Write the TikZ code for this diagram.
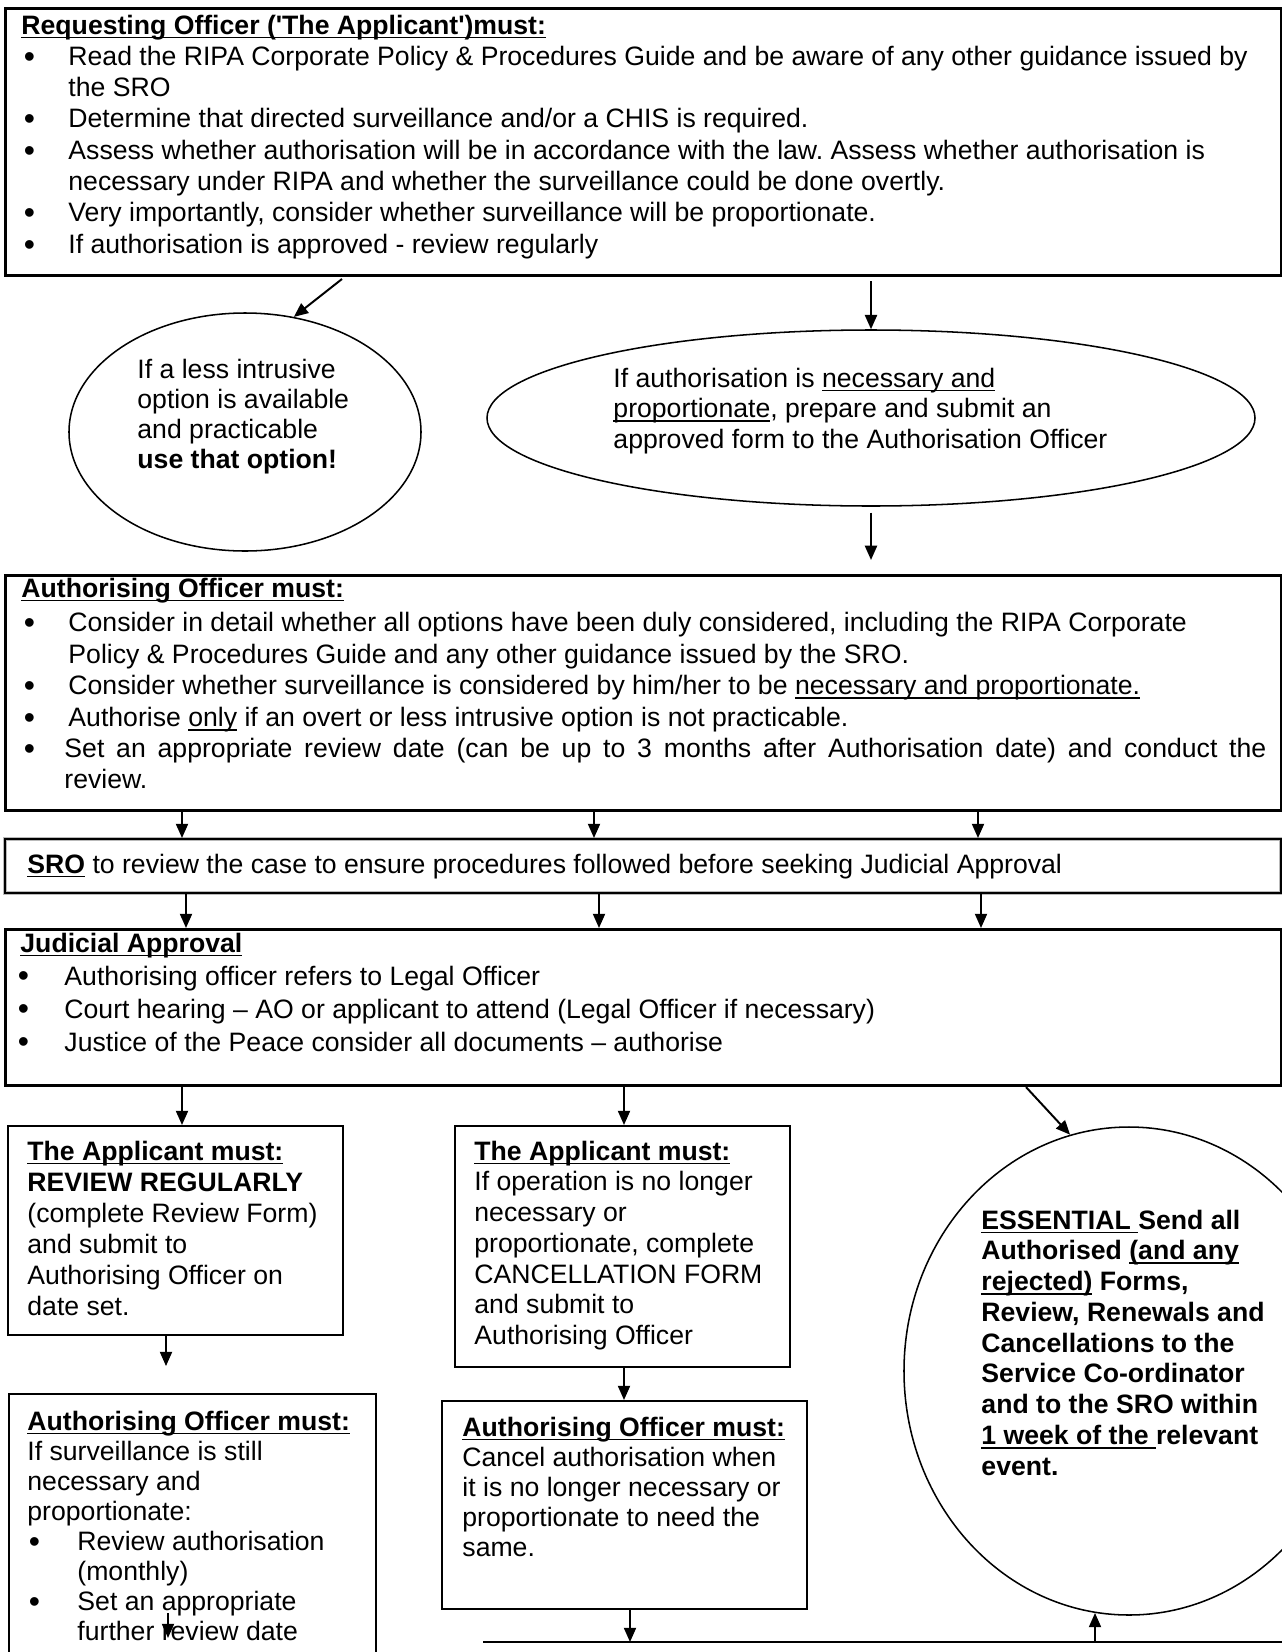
\documentclass[tikz,border=0pt]{standalone}
\usepackage{fontspec}
\setmainfont{Liberation Sans}
\usetikzlibrary{arrows.meta,positioning,calc,shapes.geometric}
\frenchspacing

\newdimen\px \px=0.4563pt
\newsavebox{\undlbox}
\newcommand{\undl}[1]{\sbox{\undlbox}{#1}\rlap{\rule[-2pt]{\wd\undlbox}{0.85pt}}\usebox{\undlbox}}
\newcommand{\full}[1]{\multicolumn{2}{@{}l@{}}{#1}}
\newcommand{\bul}{\raisebox{-0.9pt}{\scalebox{1.2}{\textbullet}}}
\newcommand{\plainlines}[1]{\begin{tabular}[t]{@{}l@{}}#1\end{tabular}}
\newcommand{\bulletlines}[3]{\begin{tabular}[t]{@{\hspace{#1}}p{#2}@{}l@{}}#3\end{tabular}}

\tikzset{
  bigbox/.style={draw, rectangle, line width=1.4pt, inner sep=0pt, anchor=north west},
  smallbox/.style={draw, rectangle, line width=1.1pt, inner sep=0pt, anchor=north west},
  srobox/.style={draw, rectangle, line width=0.8pt, preaction={draw, gray!55, line width=1.9pt}, inner sep=0pt, anchor=north west},
  oval/.style={draw, ellipse, line width=0.7pt, inner sep=0pt},
  txt/.style={anchor=base west, inner sep=0pt},
  arr/.style={-{Triangle[length=6.5pt,width=5.5pt]}, line width=0.9pt}
}

\begin{document}
\begin{tikzpicture}[x=0.4563pt,y=-0.4563pt]
\useasboundingbox (0,0) rectangle (1282,1652);
\clip (0,0) rectangle (1282,1652);

% boxes
\node[bigbox, minimum width=1276\px, minimum height=267\px] (req) at (4,7) {};
\node[bigbox, minimum width=1276\px, minimum height=235\px] (ao) at (4,574) {};
\node[srobox, minimum width=1276\px, minimum height=54\px] (sro) at (4,838) {};
\node[bigbox, minimum width=1276\px, minimum height=156\px] (ja) at (4,928) {};
\node[smallbox, minimum width=335\px, minimum height=209\px] (app1) at (7,1125) {};
\node[smallbox, minimum width=335\px, minimum height=241\px] (app2) at (454,1125) {};
\node[smallbox, minimum width=367\px, minimum height=320\px] (ao1) at (8,1393) {};
\node[smallbox, minimum width=365\px, minimum height=208\px] (ao2) at (441,1400) {};

% ovals
\node[oval, minimum width=352\px, minimum height=238\px] (less) at (245,432) {};
\node[oval, minimum width=768\px, minimum height=176\px] (nec) at (871,418) {};
\node[oval, minimum width=450\px, minimum height=488\px] (ess) at (1129,1371) {};

% texts
\node[txt, font=\fontsize{12.15pt}{14.28pt}\selectfont] (reqtxt) at (21,34) {\bulletlines{2.5\px}{44.5\px}{%
\full{\undl{\textbf{Requesting Officer (\textquotesingle The Applicant\textquotesingle)must:}}}\\
\bul & Read the RIPA Corporate Policy \& Procedures Guide and be aware of any other guidance issued by\\
 & the SRO\\
\bul & Determine that directed surveillance and/or a CHIS is required.\\
\bul & Assess whether authorisation will be in accordance with the law. Assess whether authorisation is\\
 & necessary under RIPA and whether the surveillance could be done overtly.\\
\bul & Very importantly, consider whether surveillance will be proportionate.\\
\bul & If authorisation is approved - review regularly}};

\node[txt, font=\fontsize{12.15pt}{13.83pt}\selectfont] (lesstxt) at (137,378) {\plainlines{%
If a less intrusive\\
option is available\\
and practicable\\
\textbf{use that option!}}};

\node[txt, font=\fontsize{12.15pt}{13.92pt}\selectfont] (nectxt) at (613,387) {\plainlines{%
If authorisation is \undl{necessary and}\\
\undl{proportionate}, prepare and submit an\\
approved form to the Authorisation Officer}};

\node[txt, font=\fontsize{12.15pt}{14.33pt}\selectfont] (aotxt) at (21,597) {\bulletlines{2.5\px}{44.5\px}{%
\full{\undl{\textbf{Authorising Officer must:}}}\\[1.6pt]
\bul & Consider in detail whether all options have been duly considered, including the RIPA Corporate\\
 & Policy \& Procedures Guide and any other guidance issued by the SRO.\\
\bul & Consider whether surveillance is considered by him/her to be \undl{necessary and proportionate.}\\
\bul & Authorise \undl{only} if an overt or less intrusive option is not practicable.\\
\bul & \hspace*{-4\px}\makebox[1202\px][s]{Set an appropriate review date (can be up to 3 months after Authorisation date) and conduct the}\\
 & \hspace*{-4\px}review.}};

\node[txt, font=\fontsize{12.15pt}{14pt}\selectfont] (srotxt) at (27,873) {\plainlines{%
\undl{\textbf{SRO}} to review the case to ensure procedures followed before seeking Judicial Approval}};

\node[txt, font=\fontsize{12.15pt}{15.06pt}\selectfont] (jatxt) at (20,952) {\bulletlines{-2.5\px}{46.5\px}{%
\full{\undl{\textbf{Judicial Approval}}}\\
\bul & Authorising officer refers to Legal Officer\\
\bul & Court hearing -- AO or applicant to attend (Legal Officer if necessary)\\
\bul & Justice of the Peace consider all documents -- authorise}};

\node[txt, font=\fontsize{12.15pt}{14.15pt}\selectfont] (app1txt) at (27,1160) {\plainlines{%
\undl{\textbf{The Applicant must:}}\\
\textbf{REVIEW REGULARLY}\\
(complete Review Form)\\
and submit to\\
Authorising Officer on\\
date set.}};

\node[txt, font=\fontsize{12.15pt}{14.05pt}\selectfont] (app2txt) at (474,1160) {\plainlines{%
\undl{\textbf{The Applicant must:}}\\
If operation is no longer\\
necessary or\\
proportionate, complete\\
CANCELLATION FORM\\
and submit to\\
Authorising Officer}};

\node[txt, font=\fontsize{12.15pt}{13.69pt}\selectfont] (ao1txt) at (27,1430) {\bulletlines{1.5\px}{48.5\px}{%
\full{\undl{\textbf{Authorising Officer must:}}}\\
\full{If surveillance is still}\\
\full{necessary and}\\
\full{proportionate:}\\
\bul & Review authorisation\\
 & (monthly)\\
\bul & Set an appropriate\\
 & further review date}};

\node[txt, font=\fontsize{12.15pt}{13.69pt}\selectfont] (ao2txt) at (462,1436) {\plainlines{%
\undl{\textbf{Authorising Officer must:}}\\
Cancel authorisation when\\
it is no longer necessary or\\
proportionate to need the\\
same.}};

\node[txt, font=\fontsize{12.15pt}{14.05pt}\selectfont\bfseries] (esstxt) at (981,1229) {\plainlines{%
\undl{ESSENTIAL }Send all\\
Authorised \undl{(and any}\\
\undl{rejected)} Forms,\\
Review, Renewals and\\
Cancellations to the\\
Service Co-ordinator\\
and to the SRO within\\
\undl{1 week of the }relevant\\
event.}};

% connectors
\coordinate (lessfrom) at (342,279);
\draw[arr] (lessfrom) -- (less.67);
\draw[arr, shorten <=1.8pt] (req.south -| nec.north) -- (nec.north);
\draw[arr, shorten <=2.7pt, shorten >=6.4pt] (nec.south) -- (ao.north -| nec.south);
\foreach \c in {182,594,978} \draw[arr] (ao.south -| \c,0) -- (sro.north -| \c,0);
\foreach \c in {186,599,981} \draw[arr] (sro.south -| \c,0) -- (ja.north -| \c,0);
\draw[arr] (ja.south -| 182,0) -- (app1.north -| 182,0);
\draw[arr] (ja.south -| 624,0) -- (app2.north -| 624,0);
\draw[arr] (ja.south -| 1026,0) -- (ess.104);
\draw[arr, shorten >=12.3pt] (app1.south -| 166,0) -- (ao1.north -| 166,0);
\draw[arr] (app2.south -| 624,0) -- (ao2.north -| 624,0);
\coordinate (ao1a) at (168,1613);
\coordinate (ao1b) at (168,1638);
\draw[arr] (ao1a) -- (ao1b);
\coordinate (basew) at (483,1642);
\coordinate (basee) at (1282,1642);
\draw[line width=0.9pt] (basew) -- (basee);
\draw[arr] (ao2.south -| 630,0) -- (basew -| 630,0);
\draw[arr] (basew -| ess.262) -- (ess.262);
\end{tikzpicture}
\end{document}
